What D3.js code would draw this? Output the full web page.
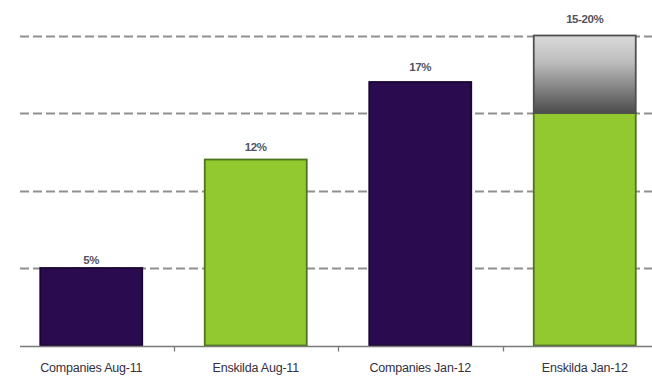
<!DOCTYPE html>
<html>
<head>
<meta charset="utf-8">
<script src="https://cdn.jsdelivr.net/npm/d3@7"></script>
<style>
  html, body { margin: 0; padding: 0; background: #fff; }
  svg { display: block; }
  text { font-family: "Liberation Sans", Arial, sans-serif; }
</style>
</head>
<body>
<svg id="chart" width="652" height="377"></svg>
<script>
// Categories and values (percent)
const categories = ["Companies Aug-11", "Enskilda Aug-11", "Companies Jan-12", "Enskilda Jan-12"];
const baseValues = [5, 12, 17, 15];
const rangeTop = [null, null, null, 20];
const valueLabels = ["5%", "12%", "17%", "15-20%"];
const barColors = ["#2b0b50", "#92c92e", "#2b0b50", "#92c92e"];
const gridValues = [5, 10, 15, 20];

const svg = d3.select("#chart");

const x = d3.scaleBand().domain(categories).range([9, 667]).paddingInner(0.38).paddingOuter(0.19);
const xTicks = d3.scaleBand().domain(categories).range([9, 667]);
const y = d3.scaleLinear().domain([0, 20]).range([345.5, 35.5]);

// Gradient for the range segment
const defs = svg.append("defs");
const grad = defs.append("linearGradient").attr("id", "rangeGrad")
  .attr("x1", 0).attr("y1", 0).attr("x2", 0).attr("y2", 1);
grad.append("stop").attr("offset", "0%").attr("stop-color", "#dadada");
grad.append("stop").attr("offset", "35%").attr("stop-color", "#bcbcbc");
grad.append("stop").attr("offset", "100%").attr("stop-color", "#4c4c4c");

// Dashed gridlines
svg.append("g").selectAll("line").data(gridValues).join("line")
  .attr("x1", 20).attr("x2", 652)
  .attr("y1", d => Math.round(y(d)) + 0.5).attr("y2", d => Math.round(y(d)) + 0.5)
  .attr("stroke", "#8f8f8f").attr("stroke-width", 2)
  .attr("stroke-dasharray", "9,4");

// Bars
const bars = svg.append("g");
bars.selectAll("rect.base").data(categories).join("rect")
  .attr("class", "base")
  .attr("x", d => x(d))
  .attr("width", x.bandwidth())
  .attr("y", (d, i) => y(baseValues[i]))
  .attr("height", (d, i) => y(0) - y(baseValues[i]))
  .attr("fill", (d, i) => barColors[i])
  .attr("stroke", (d, i) => i % 2 ? "#4f7420" : "#1a0633")
  .attr("stroke-width", 1.8);

// Range segment above base (gray gradient)
bars.selectAll("rect.range").data(categories.filter((d, i) => rangeTop[i] != null)).join("rect")
  .attr("class", "range")
  .attr("x", d => x(d))
  .attr("width", x.bandwidth())
  .attr("y", d => y(rangeTop[categories.indexOf(d)]))
  .attr("height", d => { const i = categories.indexOf(d); return y(baseValues[i]) - y(rangeTop[i]); })
  .attr("fill", "url(#rangeGrad)")
  .attr("stroke", "#505050").attr("stroke-width", 1.8);

// Value labels above each bar
svg.append("g").selectAll("text").data(categories).join("text")
  .attr("x", d => x(d) + x.bandwidth() / 2)
  .attr("y", (d, i) => {
    const v = rangeTop[i] != null ? rangeTop[i] : baseValues[i];
    return y(v) - (1 + 0.6 * v);
  })
  .attr("text-anchor", "middle")
  .attr("font-size", 11.5)
  .attr("font-weight", "bold")
  .attr("letter-spacing", -0.4)
  .attr("fill", "#55535e")
  .text((d, i) => valueLabels[i]);

// X axis
const axisY = Math.round(y(0)) + 0.5;
svg.append("line").attr("x1", 20).attr("x2", 652).attr("y1", axisY).attr("y2", axisY)
  .attr("stroke", "#7a7a7a").attr("stroke-width", 1.3);
svg.append("g").selectAll("line").data(categories.slice(1)).join("line")
  .attr("x1", d => Math.round(xTicks(d)) + 0.5).attr("x2", d => Math.round(xTicks(d)) + 0.5)
  .attr("y1", axisY).attr("y2", axisY + 5)
  .attr("stroke", "#7a7a7a").attr("stroke-width", 1.3);

svg.append("g").selectAll("text").data(categories).join("text")
  .attr("x", d => x(d) + x.bandwidth() / 2)
  .attr("y", 372)
  .attr("text-anchor", "middle")
  .attr("font-size", 12.5)
  .attr("letter-spacing", -0.2)
  .attr("fill", "#34303f")
  .text(d => d);
</script>
</body>
</html>
